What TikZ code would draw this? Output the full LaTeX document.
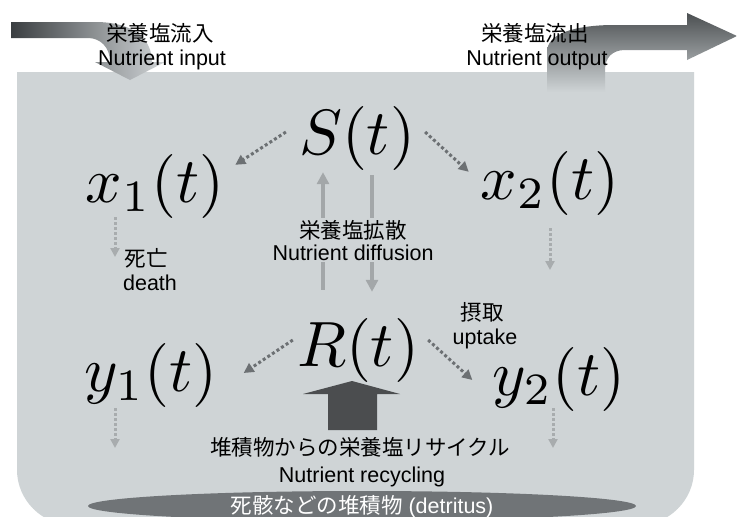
\documentclass[tikz,border=0pt]{standalone}
\usepackage[no-math]{fontspec}
\usepackage{graphicx}
\setmainfont{Liberation Sans}
\newfontfamily\jp{Noto Sans CJK JP}
\usetikzlibrary{arrows.meta,calc}
\definecolor{bgc}{RGB}{207,212,214}
\definecolor{dotdark}{RGB}{108,112,115}
\definecolor{dotlight}{RGB}{168,172,174}
\definecolor{difc}{RGB}{163,167,169}
\definecolor{recyc}{RGB}{75,77,79}
\definecolor{detc}{RGB}{112,116,119}
\definecolor{inL}{RGB}{58,62,65}
\definecolor{inR}{RGB}{210,214,216}
\definecolor{outT}{RGB}{76,80,82}
\definecolor{outM}{RGB}{128,132,134}
\newcommand{\hugemath}[1]{\scalebox{6.4}{$#1$}}
\begin{document}
\begin{tikzpicture}[x=1pt,y=-1pt,
  mathlbl/.style={inner sep=0pt, anchor=base, font=\fontsize{10}{12}\selectfont},
  txt/.style={inner sep=0pt, anchor=base, font=\fontsize{21.5}{24}\selectfont},
  jtxt/.style={inner sep=0pt, anchor=base, font=\fontsize{21.5}{24}\selectfont\jp},
  darr/.style={draw=dotdark, line width=3pt, dash pattern=on 3pt off 2.5pt, -{Triangle[length=10pt,width=10pt]}},
  larr/.style={draw=dotlight, line width=3pt, dash pattern=on 2.5pt off 2.5pt, -{Triangle[length=9pt,width=9pt]}},
  difarr/.style={draw=difc, line width=3.5pt, -{Triangle[length=12pt,width=12pt]}}
]
\useasboundingbox (0,0) rectangle (737,517);
\clip (0,0) rectangle (737,517);
\fill[white] (0,0) rectangle (737,517);

% container
\fill[bgc] (17,72) -- (17,470) .. controls (17,500) and (42,525) .. (72,525)
  -- (639,525) .. controls (669,525) and (694,500) .. (694,470) -- (694,72) -- cycle;

% nutrient input arrow
\shade[left color=inL, right color=inR] (11,22) -- (95,22) .. controls (135,22) and (152,40) .. (152,62)
  -- (165,62) -- (130,80) -- (95,62) -- (110,62) .. controls (110,47) and (100,38) .. (88,38) -- (11,38) -- cycle;

% nutrient output arrow
\shade[top color=outT, middle color=outM, bottom color=bgc] (547,92) -- (547,52) .. controls (547,35) and (570,26) .. (610,25)
  -- (687,25) -- (687,13) -- (737,36) -- (687,60) -- (687,50) -- (625,50) .. controls (612,50) and (605,58) .. (605,70)
  -- (605,92) -- cycle;

% detritus
\fill[detc] (362,506) ellipse [x radius=274, y radius=15];

% recycling block arrow
\fill[recyc] (328,430) -- (328,394) -- (303,394) -- (352,381) -- (400,394) -- (377,394) -- (377,430) -- cycle;

% state variables
\node[mathlbl] (S) at (357,154) {\hugemath{S(t)}};
\node[mathlbl] (x1) at (155,202) {\hugemath{x_1(t)}};
\node[mathlbl] (x2) at (550,199) {\hugemath{x_2(t)}};
\node[mathlbl] (R) at (358,366) {\hugemath{R(t)}};
\node[mathlbl] (y1) at (151,391) {\hugemath{y_1(t)}};
\node[mathlbl] (y2) at (559,395) {\hugemath{y_2(t)}};

% uptake arrows
\draw[darr] ($(S.west)+(-13,-6)$) -- ($(x1.north east)+(11,11)$);
\draw[darr] ($(S.east)+(10,-6)$) -- ($(x2.north west)+(-12,21)$);
\draw[darr] ($(R.west)+(-4,-10)$) -- ($(y1.east)+(26,-2)$);
\draw[darr] ($(R.east)+(9,-10)$) -- ($(y2.west)+(-20,1)$);

% diffusion arrows
\draw[difarr] ($(R.north)+(-35,-28)$) -- ($(S.south)+(-34,2)$);
\draw[difarr] ($(S.south)+(15,5)$) -- ($(R.north)+(14,-26)$);

% death arrows
\coordinate (dx1) at (115,257);
\coordinate (dx2) at (550,270);
\coordinate (dy1) at (115,448);
\coordinate (dy2) at (553,448);
\draw[larr] ($(x1.south)+(-40,-1)$) -- (dx1);
\draw[larr] ($(x2.south)+(0,13)$) -- (dx2);
\draw[larr] ($(y1.south)+(-36,1)$) -- (dy1);
\draw[larr] ($(y2.south)+(-6,-3)$) -- (dy2);

% labels
\node[jtxt] (inJ) at (160,41) {栄養塩流入};
\node[txt] (inE) at (162,65) {Nutrient input};
\node[jtxt] (outJ) at (535,41) {栄養塩流出};
\node[txt] (outE) at (537,65) {Nutrient output};
\node[jtxt, fill=bgc, inner sep=2pt] (difJ) at (353,238) {栄養塩拡散};
\node[txt, fill=bgc, inner sep=2pt] (difE) at (353,260) {Nutrient diffusion};
\node[jtxt] (deJ) at (146,266) {死亡};
\node[txt] (deE) at (150,290) {death};
\node[jtxt] (upJ) at (482,320) {摂取};
\node[txt] (upE) at (485,344) {uptake};
\node[jtxt] (recJ) at (360,455) {堆積物からの栄養塩リサイクル};
\node[txt] (recE) at (362,482) {Nutrient recycling};
\node[txt, text=white] (det) at (362,513) {{\jp 死骸などの堆積物} (detritus)};
\end{tikzpicture}
\end{document}
